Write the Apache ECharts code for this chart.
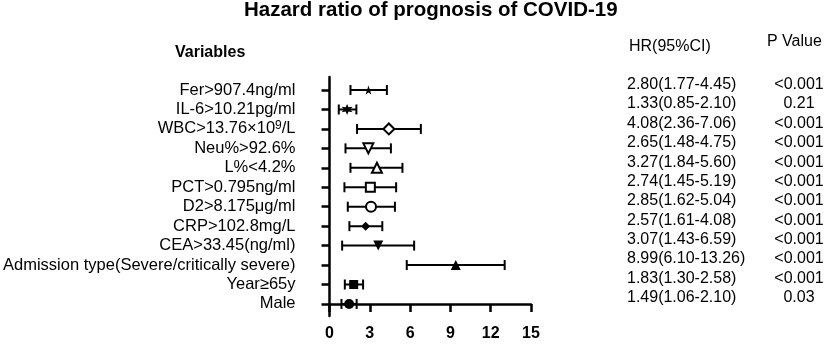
<!DOCTYPE html>
<html>
<head>
<meta charset="utf-8">
<script src="https://cdn.jsdelivr.net/npm/echarts@6/dist/echarts.min.js"></script>
<style>
  html, body { margin: 0; padding: 0; background: #fff; }
  #chart-container { width: 829px; height: 345px; }
</style>
</head>
<body>
<div id="chart-container"></div>
<script>
  // variables, top to bottom ({sup|..} marks the superscript)
  var variables = [
    'Fer>907.4ng/ml', 'IL-6>10.21pg/ml', 'WBC>13.76×10{sup|9}/L', 'Neu%>92.6%', 'L%<4.2%',
    'PCT>0.795ng/ml', 'D2>8.175μg/ml', 'CRP>102.8mg/L', 'CEA>33.45(ng/ml)',
    'Admission type(Severe/critically severe)', 'Year≥65y', 'Male'
  ];
  // plotted hazard ratio and CI, as drawn
  var hrPlot = [2.9, 1.31, 4.42, 2.89, 3.53, 3.04, 3.09, 2.69, 3.63, 9.4, 1.8, 1.46];
  var ciLow = [1.56, 0.69, 2.05, 1.19, 1.56, 1.11, 1.36, 1.48, 0.94, 5.75, 1.14, 0.89];
  var ciHigh = [4.27, 2.0, 6.8, 4.57, 5.43, 4.96, 4.87, 3.93, 6.3, 13.04, 2.5, 2.02];
  // table text
  var hrText = [
    '2.80(1.77-4.45)', '1.33(0.85-2.10)', '4.08(2.36-7.06)', '2.65(1.48-4.75)',
    '3.27(1.84-5.60)', '2.74(1.45-5.19)', '2.85(1.62-5.04)', '2.57(1.61-4.08)',
    '3.07(1.43-6.59)', '8.99(6.10-13.26)', '1.83(1.30-2.58)', '1.49(1.06-2.10)'
  ];
  var pText = ['<0.001', '0.21', '<0.001', '<0.001', '<0.001', '<0.001', '<0.001',
    '<0.001', '<0.001', '<0.001', '<0.001', '0.03'];
  var xTicks = [0, 3, 6, 9, 12, 15];

  var FONT = '"Liberation Sans", Arial, sans-serif';
  var n = variables.length;
  var rowVal = function (i) { return n - 1 - i; };

  function starPath(points, outer, inner) {
    var d = '';
    for (var k = 0; k < points * 2; k++) {
      var r = k % 2 === 0 ? outer : inner;
      var a = Math.PI * k / points - Math.PI / 2;
      d += (k === 0 ? 'M' : 'L') + (r * Math.cos(a)).toFixed(2) + ',' + (r * Math.sin(a)).toFixed(2);
    }
    return 'path://' + d + 'Z';
  }

  var open = { color: '#fff', borderColor: '#000', borderWidth: 2, opacity: 1 };
  var filled = { color: '#000', borderColor: '#000', borderWidth: 0, opacity: 1 };
  var markers = [
    { symbol: starPath(5, 10, 4), symbolSize: 9, itemStyle: filled },
    { symbol: starPath(6, 10, 4.5), symbolSize: 11, itemStyle: filled },
    { symbol: 'diamond', symbolSize: 11, itemStyle: open },
    { symbol: 'triangle', symbolSize: 10, symbolRotate: 180, itemStyle: open },
    { symbol: 'triangle', symbolSize: 10, itemStyle: open },
    { symbol: 'rect', symbolSize: 9, itemStyle: open },
    { symbol: 'circle', symbolSize: 10, itemStyle: open },
    { symbol: 'diamond', symbolSize: 9, itemStyle: filled },
    { symbol: 'triangle', symbolSize: 10, symbolRotate: 180, itemStyle: filled },
    { symbol: 'triangle', symbolSize: 10, itemStyle: filled },
    { symbol: 'rect', symbolSize: 9, itemStyle: filled },
    { symbol: 'circle', symbolSize: 10, itemStyle: filled }
  ];

  var pointData = hrPlot.map(function (v, i) {
    return Object.assign({ value: [v, rowVal(i)] }, markers[i]);
  });
  var barData = ciLow.map(function (lo, i) { return [lo, ciHigh[i], rowVal(i)]; });

  var dom = document.getElementById('chart-container');
  var myChart = echarts.init(dom, null, { renderer: 'canvas' });

  var tableLabel = { show: true, color: '#000', fontFamily: FONT, fontSize: 16, formatter: '{b}' };

  var option = {
    animation: false,
    backgroundColor: '#fff',
    textStyle: { fontFamily: FONT, color: '#000' },
    title: [
      { text: 'Hazard ratio of prognosis of COVID-19', left: 244, top: 0, padding: 0,
        textStyle: { fontFamily: FONT, fontSize: 20.5, fontWeight: 'bold', color: '#000' } },
      { text: 'Variables', left: 175, top: 45, padding: 0,
        textStyle: { fontFamily: FONT, fontSize: 16, fontWeight: 'bold', color: '#000' } },
      { text: 'HR(95%CI)', left: 629, top: 39, padding: 0,
        textStyle: { fontFamily: FONT, fontSize: 16, fontWeight: 'normal', color: '#000' } },
      { text: 'P Value', left: 767, top: 34, padding: 0,
        textStyle: { fontFamily: FONT, fontSize: 16, fontWeight: 'normal', color: '#000' } }
    ],
    grid: [
      { left: 329, right: 298, top: 77, bottom: 29 },
      { left: 627, right: 30, top: 75, bottom: 37.6 }
    ],
    xAxis: [
      {
        gridIndex: 0, type: 'value', min: 0, max: 15, interval: 3,
        splitLine: { show: false },
        axisLine: { lineStyle: { color: '#000', width: 2.5 } },
        axisTick: { length: 8, lineStyle: { color: '#000', width: 2.5 } },
        axisLabel: { color: '#000', fontSize: 16, fontWeight: 'bold', margin: 10,
          formatter: function (v) { return xTicks.indexOf(v) >= 0 ? String(v) : ''; } }
      },
      { gridIndex: 1, type: 'value', min: 0, max: 1, show: false }
    ],
    yAxis: [
      {
        gridIndex: 0, type: 'value', min: -0.62, max: 11.67,
        splitLine: { show: false },
        axisLine: { show: true, lineStyle: { color: '#000', width: 2.5 } },
        axisTick: { show: true, length: 8, lineStyle: { color: '#000', width: 2.5 },
          customValues: variables.map(function (_, i) { return rowVal(i); }) },
        axisLabel: { color: '#000', fontSize: 16.5, margin: 34,
          customValues: variables.map(function (_, i) { return rowVal(i); }),
          formatter: function (v) { return variables[n - 1 - Math.round(v)]; },
          rich: { sup: { fontSize: 12, verticalAlign: 'top', padding: [0, 0, 7, 0], color: '#000' } } }
      },
      { gridIndex: 1, type: 'value', min: -0.5, max: 11.5, show: false }
    ],
    series: [
      {
        type: 'custom',
        xAxisIndex: 0, yAxisIndex: 0,
        data: barData,
        renderItem: function (params, api) {
          var a = api.coord([api.value(0), api.value(2)]);
          var b = api.coord([api.value(1), api.value(2)]);
          var h = 5;
          var st = { stroke: '#000', lineWidth: 2 };
          return {
            type: 'group',
            children: [
              { type: 'line', shape: { x1: a[0], y1: a[1], x2: b[0], y2: b[1] }, style: st },
              { type: 'line', shape: { x1: a[0], y1: a[1] - h, x2: a[0], y2: a[1] + h }, style: st },
              { type: 'line', shape: { x1: b[0], y1: b[1] - h, x2: b[0], y2: b[1] + h }, style: st }
            ]
          };
        },
        z: 2
      },
      {
        type: 'scatter',
        xAxisIndex: 0, yAxisIndex: 0,
        itemStyle: { opacity: 1 },
        data: pointData,
        z: 3
      },
      {
        type: 'scatter',
        xAxisIndex: 1, yAxisIndex: 1,
        symbolSize: 0,
        itemStyle: { opacity: 1 },
        data: hrText.map(function (t, i) { return { value: [0, rowVal(i)], name: t }; }),
        label: Object.assign({ position: 'right', distance: 0 }, tableLabel)
      },
      {
        type: 'scatter',
        xAxisIndex: 1, yAxisIndex: 1,
        symbolSize: 0,
        itemStyle: { opacity: 1 },
        data: pText.map(function (t, i) { return { value: [1, rowVal(i)], name: t }; }),
        label: Object.assign({ position: 'inside' }, tableLabel)
      }
    ]
  };

  myChart.setOption(option);
</script>
</body>
</html>
